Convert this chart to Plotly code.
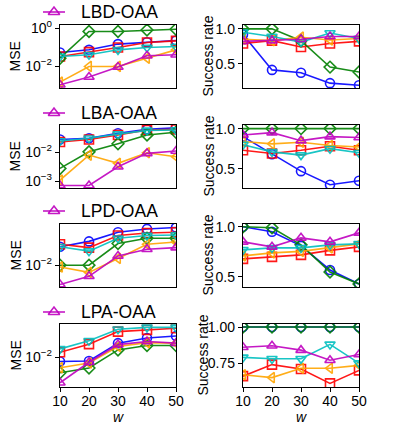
import plotly.graph_objects as go

w = [10, 20, 30, 40, 50]
methods = ["LBD-OAA", "LBA-OAA", "LPD-OAA", "LPA-OAA"]
series_names = ["blue", "red", "green", "orange", "cyan", "magenta"]

# MSE values per method (rows) and series
mse_lbd_blue = [0.054, 0.074, 0.148, 0.186, 0.229]
mse_lbd_red = [0.033, 0.056, 0.098, 0.178, 0.219]
mse_lbd_green = [0.027, 0.68, 0.68, 0.81, 0.89]
mse_lbd_orange = [0.0015, 0.010, 0.010, 0.027, 0.074]
mse_lbd_cyan = [0.033, 0.041, 0.074, 0.098, 0.11]
mse_lbd_magenta = [0.0011, 0.0028, 0.0093, 0.036, 0.041]

mse_lba_blue = [0.028, 0.031, 0.046, 0.063, 0.072]
mse_lba_red = [0.023, 0.028, 0.040, 0.060, 0.063]
mse_lba_green = [0.0028, 0.0105, 0.020, 0.040, 0.050]
mse_lba_orange = [0.0011, 0.0081, 0.0042, 0.0098, 0.0071]
mse_lba_cyan = [0.025, 0.031, 0.043, 0.058, 0.060]
mse_lba_magenta = [0.00072, 0.00072, 0.0032, 0.0093, 0.0112]

mse_lpd_blue = [0.024, 0.031, 0.048, 0.056, 0.060]
mse_lpd_red = [0.027, 0.023, 0.041, 0.046, 0.048]
mse_lpd_green = [0.010, 0.010, 0.028, 0.036, 0.036]
mse_lpd_orange = [0.0092, 0.0071, 0.0138, 0.027, 0.030]
mse_lpd_cyan = [0.024, 0.0195, 0.036, 0.041, 0.042]
mse_lpd_magenta = [0.0040, 0.0059, 0.0155, 0.0214, 0.023]

mse_lpa_blue = [0.0081, 0.0083, 0.0195, 0.025, 0.0275]
mse_lpa_red = [0.0126, 0.0186, 0.034, 0.037, 0.040]
mse_lpa_green = [0.0047, 0.0059, 0.0141, 0.0174, 0.0174]
mse_lpa_orange = [0.0060, 0.0075, 0.0166, 0.020, 0.0195]
mse_lpa_cyan = [0.0148, 0.0219, 0.038, 0.0417, 0.0417]
mse_lpa_magenta = [0.0029, 0.0078, 0.0182, 0.0211, 0.0195]

# Success rates
sr_lbd_blue = [0.92, 0.41, 0.37, 0.22, 0.19]
sr_lbd_red = [0.79, 0.83, 0.74, 0.79, 0.82]
sr_lbd_green = [1.0, 1.0, 0.83, 0.45, 0.38]
sr_lbd_orange = [0.85, 0.83, 0.88, 0.84, 0.86]
sr_lbd_cyan = [0.95, 0.89, 0.81, 0.94, 0.86]
sr_lbd_magenta = [0.82, 0.83, 0.85, 0.89, 0.89]

sr_lba_blue = [0.90, 0.68, 0.47, 0.30, 0.35]
sr_lba_red = [0.73, 0.69, 0.73, 0.78, 0.73]
sr_lba_green = [1.0, 1.0, 1.0, 1.0, 1.0]
sr_lba_orange = [0.84, 0.81, 0.83, 0.79, 0.77]
sr_lba_cyan = [0.80, 0.71, 0.67, 0.75, 0.70]
sr_lba_magenta = [0.92, 0.95, 0.85, 0.90, 0.89]

sr_lpd_blue = [1.0, 0.95, 0.81, 0.57, 0.43]
sr_lpd_red = [0.68, 0.70, 0.72, 0.765, 0.80]
sr_lpd_green = [1.0, 0.99, 0.82, 0.55, 0.43]
sr_lpd_orange = [0.71, 0.74, 0.755, 0.79, 0.83]
sr_lpd_cyan = [0.77, 0.79, 0.79, 0.82, 0.83]
sr_lpd_magenta = [0.85, 0.80, 0.89, 0.85, 0.94]

sr_lpa_blue = [1.0, 1.0, 1.0, 1.0, 1.0]
sr_lpa_red = [0.66, 0.74, 0.71, 0.61, 0.70]
sr_lpa_green = [1.0, 1.0, 1.0, 1.0, 1.0]
sr_lpa_orange = [0.67, 0.65, 0.715, 0.715, 0.735]
sr_lpa_cyan = [0.79, 0.78, 0.78, 0.88, 0.75]
sr_lpa_magenta = [0.86, 0.87, 0.84, 0.77, 0.81]

mse_rows = [
    [mse_lbd_blue, mse_lbd_red, mse_lbd_green, mse_lbd_orange, mse_lbd_cyan, mse_lbd_magenta],
    [mse_lba_blue, mse_lba_red, mse_lba_green, mse_lba_orange, mse_lba_cyan, mse_lba_magenta],
    [mse_lpd_blue, mse_lpd_red, mse_lpd_green, mse_lpd_orange, mse_lpd_cyan, mse_lpd_magenta],
    [mse_lpa_blue, mse_lpa_red, mse_lpa_green, mse_lpa_orange, mse_lpa_cyan, mse_lpa_magenta],
]
sr_rows = [
    [sr_lbd_blue, sr_lbd_red, sr_lbd_green, sr_lbd_orange, sr_lbd_cyan, sr_lbd_magenta],
    [sr_lba_blue, sr_lba_red, sr_lba_green, sr_lba_orange, sr_lba_cyan, sr_lba_magenta],
    [sr_lpd_blue, sr_lpd_red, sr_lpd_green, sr_lpd_orange, sr_lpd_cyan, sr_lpd_magenta],
    [sr_lpa_blue, sr_lpa_red, sr_lpa_green, sr_lpa_orange, sr_lpa_cyan, sr_lpa_magenta],
]

colors = ["#0000ff", "#ff0000", "#008000", "#ffa500", "#00bfbf", "#bf00bf"]
symbols = ["circle-open", "square-open", "diamond-open", "triangle-left-open",
           "triangle-down-open", "triangle-up-open"]

W, H = 399, 426
FONT = "Liberation Sans, Arial, sans-serif"

# pixel layout
left_x = (60, 176)
right_x = (243, 359)
rows_px = [(25, 88), (125, 188), (224, 287), (324, 387)]
legend_cy = [12, 113, 211, 312]

mse_ranges = [(-3.13, 0.17), (-3.23, -1.05), (-2.45, -1.15), (-2.625, -1.31)]
mse_ticks = [([1, 0.01], ["10<sup>0</sup>", "10<sup>\u22122</sup>"]),
             ([0.01, 0.001], ["10<sup>\u22122</sup>", "10<sup>\u22123</sup>"]),
             ([0.01], ["10<sup>\u22122</sup>"]),
             ([0.01], ["10<sup>\u22122</sup>"])]
sr_ranges = [(0.15, 1.055), (0.26, 1.045), (0.40, 1.028), (0.585, 1.021)]
sr_ticks = [([1.0, 0.5], ["1.0", "0.5"]),
            ([1.0, 0.5], ["1.0", "0.5"]),
            ([1.0, 0.5], ["1.0", "0.5"]),
            ([1.0, 0.75], ["1.00", "0.75"])]
sr_label_x = [208, 209, 207, 202]

fig = go.Figure()
layout = dict(
    width=W, height=H, margin=dict(l=0, r=0, t=0, b=0, autoexpand=False),
    paper_bgcolor="white", plot_bgcolor="rgba(0,0,0,0)",
    font=dict(family=FONT, size=14, color="black"),
    showlegend=False,
    annotations=[],
)

def px2x(p):
    return p / W

def px2y(p):
    return 1 - p / H

axis_common = dict(showgrid=False, zeroline=False, showline=True, mirror=True,
                   linecolor="black", linewidth=1.2, ticks="outside", ticklen=4,
                   tickwidth=1, tickcolor="black", automargin=False,
                   tickfont=dict(family=FONT, size=14, color="black"))

for r in range(4):
    top, bot = rows_px[r]
    ydom = [px2y(bot), px2y(top)]
    for c in range(2):
        k = r * 2 + c + 1
        xa = "xaxis" if k == 1 else f"xaxis{k}"
        ya = "yaxis" if k == 1 else f"yaxis{k}"
        xr = "x" if k == 1 else f"x{k}"
        yr = "y" if k == 1 else f"y{k}"
        xd = left_x if c == 0 else right_x
        xax = dict(axis_common, domain=[px2x(xd[0]), px2x(xd[1])], anchor=yr,
                   range=[10, 50], tickvals=w, ticktext=[str(v) for v in w])
        if r < 3:
            xax.update(showticklabels=False, ticks="")
        else:
            xax.update(ticklabelstandoff=-3)
        layout[xa] = xax
        if c == 0:
            tv, tt = mse_ticks[r]
            layout[ya] = dict(axis_common, domain=ydom, anchor=xr, type="log",
                              range=list(mse_ranges[r]), tickvals=tv, ticktext=tt)
            data = mse_rows[r]
        else:
            tv, tt = sr_ticks[r]
            layout[ya] = dict(axis_common, domain=ydom, anchor=xr,
                              range=list(sr_ranges[r]), tickvals=tv, ticktext=tt)
            data = sr_rows[r]
        for i, vals in enumerate(data):
            fig.add_trace(go.Scatter(
                x=w, y=vals, xaxis=xr, yaxis=yr, mode="lines+markers",
                name=series_names[i], showlegend=False,
                line=dict(color=colors[i], width=1.6),
                marker=dict(symbol=symbols[i], size=9, color=colors[i],
                            line=dict(width=1.6, color=colors[i])),
                opacity=0.9,
            ))
    # axis labels
    cy = px2y((top + bot) / 2)
    layout["annotations"].append(dict(
        text="MSE", x=px2x(15), y=cy, xref="paper", yref="paper",
        showarrow=False, textangle=-90, xanchor="center", yanchor="middle",
        font=dict(family=FONT, size=14, color="black")))
    layout["annotations"].append(dict(
        text="Success rate", x=px2x(sr_label_x[r]), y=cy, xref="paper", yref="paper",
        showarrow=False, textangle=-90, xanchor="center", yanchor="middle",
        font=dict(family=FONT, size=14, color="black")))

# overlay axis (pixel coordinates) for the per-row legend keys
layout["xaxis9"] = dict(domain=[0, 1], range=[0, W], visible=False, fixedrange=True,
                        anchor="y9", automargin=False)
layout["yaxis9"] = dict(domain=[0, 1], range=[H, 0], visible=False, fixedrange=True,
                        anchor="x9", automargin=False)
for r in range(4):
    cy = legend_cy[r]
    fig.add_trace(go.Scatter(
        x=[43, 65], y=[cy, cy], xaxis="x9", yaxis="y9", mode="lines",
        line=dict(color=colors[5], width=1.6), showlegend=False, hoverinfo="skip",
        opacity=0.9))
    fig.add_trace(go.Scatter(
        x=[54], y=[cy], xaxis="x9", yaxis="y9", mode="markers",
        marker=dict(symbol=symbols[5], size=10, color=colors[5],
                    line=dict(width=1.6, color=colors[5])),
        showlegend=False, hoverinfo="skip", opacity=0.9))
    layout["annotations"].append(dict(
        text=methods[r], x=px2x(79), y=px2y(cy), xref="paper", yref="paper",
        showarrow=False, xanchor="left", yanchor="middle",
        font=dict(family=FONT, size=17.5, color="black")))

for xc in [118, 301]:
    layout["annotations"].append(dict(
        text="<i>w</i>", x=px2x(xc), y=px2y(417), xref="paper", yref="paper",
        showarrow=False, xanchor="center", yanchor="middle",
        font=dict(family=FONT, size=14, color="black")))

fig.update_layout(**layout)
fig.write_html("out.html", config={"displayModeBar": False, "staticPlot": True},
               post_script="document.body.style.margin='0px';document.body.style.overflow='hidden';")
